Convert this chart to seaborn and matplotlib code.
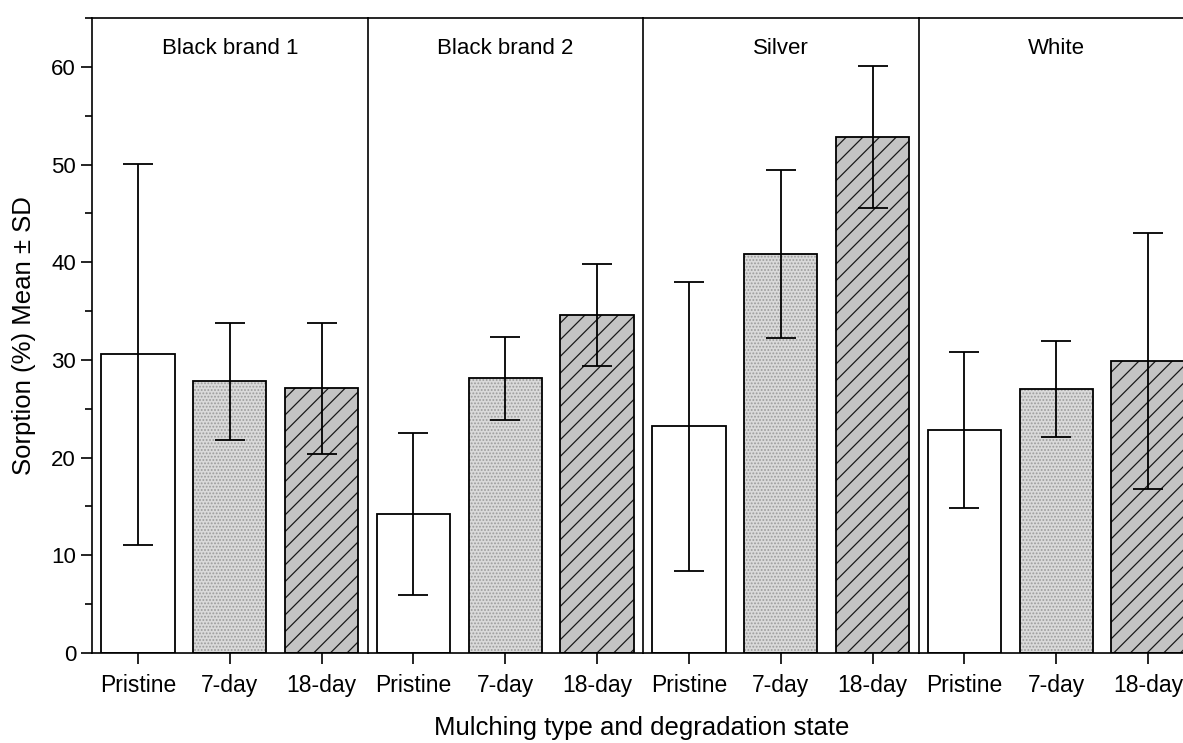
import matplotlib
matplotlib.use("Agg")
import matplotlib.pyplot as plt
from matplotlib.colors import to_rgba
import seaborn as sns
import pandas as pd

# ---- data ----
panels = ["Black brand 1", "Black brand 2", "Silver", "White"]
states = ["Pristine", "7-day", "18-day"]
means = [
    [30.6, 27.8, 27.1],
    [14.2, 28.1, 34.6],
    [23.2, 40.8, 52.8],
    [22.8, 27.0, 29.9],
]
sds = [
    [19.5, 6.0, 6.7],
    [8.3, 4.2, 5.2],
    [14.8, 8.6, 7.3],
    [8.0, 4.9, 13.1],
]

sns.set_theme(style="ticks")
plt.rcParams["font.family"] = ["Liberation Sans", "DejaVu Sans"]
plt.rcParams["hatch.linewidth"] = 0.9
plt.rcParams["text.color"] = "black"

fills = ["#ffffff", "#dadada", "#c4c4c4"]
hatches = ["", ".....", "//"]
hatch_cols = ["#000000", "#9c9c9c", "#1a1a1a"]

W, H = 1183, 743
fig = plt.figure(figsize=(W / 100, H / 100), dpi=100)
left_px, top_px, bottom_px = 92, 18, 653
panel_w = 275.5

axes = []
for i, name in enumerate(panels):
    x0 = (left_px + i * panel_w) / W
    ax = fig.add_axes([x0, 1 - bottom_px / H, panel_w / W, (bottom_px - top_px) / H],
                      sharey=axes[0] if axes else None)
    axes.append(ax)
    df = pd.DataFrame({"state": states, "mean": means[i], "sd": sds[i]})
    sns.barplot(data=df, x="state", y="mean", hue="state", order=states, hue_order=states,
                palette=fills, legend=False, ax=ax, width=0.8, edgecolor="black",
                linewidth=1.3, saturation=1)
    for p, st in zip(ax.patches, states):
        j = states.index(st)
        p.set_facecolor(fills[j])
        p.set_edgecolor("black")
        p.set_hatch(hatches[j])
        p._hatch_color = to_rgba(hatch_cols[j])
    ax.errorbar(x=range(len(states)), y=df["mean"], yerr=df["sd"], fmt="none",
                ecolor="black", elinewidth=1.3, capsize=11, capthick=1.3, zorder=5)
    ax.set_xlim(-0.5, 2.5)
    ax.set_ylim(0, 65)
    ax.set_xlabel("")
    ax.set_ylabel("")
    ax.text(0.5, 1 - (48 - top_px) / (bottom_px - top_px), name, transform=ax.transAxes,
            ha="center", va="center", fontsize=16, color="black")
    for s in ["top", "left", "right", "bottom"]:
        ax.spines[s].set_visible(True)
        ax.spines[s].set_linewidth(1.2)
        ax.spines[s].set_color("black")
    ax.spines["right"].set_visible(False)
    ax.tick_params(axis="x", direction="out", length=8, width=1.2, labelsize=16.5, pad=7,
                   colors="black")
    if i == 0:
        ax.set_yticks([0, 10, 20, 30, 40, 50, 60])
        ax.set_yticks([5, 15, 25, 35, 45, 55, 65], minor=True)
        ax.tick_params(axis="y", which="major", direction="out", length=8, width=1.2,
                       labelsize=16, colors="black")
        ax.tick_params(axis="y", which="minor", direction="out", length=5, width=1.2,
                       colors="black")
    else:
        ax.tick_params(axis="y", which="both", left=False, labelleft=False)

fig.text(24 / W, 1 - 336 / H, "Sorption (%) Mean \u00b1 SD", rotation=90,
         ha="center", va="center", fontsize=18.5, color="black")
fig.text(642 / W, 1 - 728 / H, "Mulching type and degradation state",
         ha="center", va="center", fontsize=18.5, color="black")

fig.savefig("out.png", dpi=100)
